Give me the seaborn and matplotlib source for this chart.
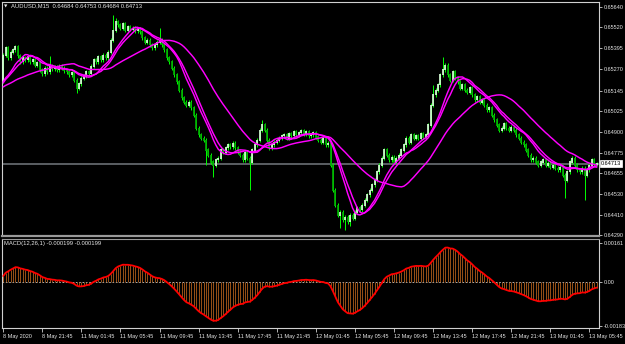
import numpy as np
import pandas as pd
import matplotlib
matplotlib.use("Agg")
import matplotlib.pyplot as plt
import seaborn as sns

# ---------------- data ----------------
symbol_text = "AUDUSD,M15  0.64684 0.64753 0.64684 0.64713"
macd_text = "MACD(12,26,1) -0.000199 -0.000199"

# closes before the visible window (estimated, needed for indicator warm-up)
warmup_close = [0.6514, 0.6516, 0.6513, 0.6515, 0.6517, 0.6515, 0.6512, 0.6514, 0.6516, 0.6515,
                0.6514, 0.6513, 0.6515, 0.6516, 0.6515, 0.6514, 0.6516, 0.6517, 0.6516, 0.6515,
                0.6514, 0.6515, 0.6517, 0.6516, 0.6515, 0.6516, 0.6517, 0.6519, 0.6518, 0.6517,
                0.6516, 0.6518, 0.6519, 0.6518, 0.6520]

close = [
    0.65355, 0.65397, 0.65338, 0.65373, 0.65385, 0.65403, 0.65350, 0.65314, 0.65338, 0.65326,
    0.65344, 0.65314, 0.65326, 0.65296, 0.65308, 0.65267, 0.65243, 0.65278, 0.65255, 0.65290,
    0.65273, 0.65284, 0.65267, 0.65290, 0.65278, 0.65261, 0.65255, 0.65237, 0.65249, 0.65207,
    0.65160, 0.65184, 0.65219, 0.65231, 0.65255, 0.65243, 0.65290, 0.65326, 0.65314, 0.65344,
    0.65326, 0.65355, 0.65338, 0.65373, 0.65444, 0.65503, 0.65551, 0.65533, 0.65515, 0.65539,
    0.65503, 0.65521, 0.65509, 0.65515, 0.65498, 0.65509, 0.65492, 0.65456, 0.65432, 0.65444,
    0.65415, 0.65397, 0.65415, 0.65432, 0.65444, 0.65415, 0.65385, 0.65338, 0.65314, 0.65278,
    0.65237, 0.65196, 0.65148, 0.65101, 0.65077, 0.65059, 0.65077, 0.65042, 0.65000, 0.64923,
    0.64882, 0.64864, 0.64852, 0.64793, 0.64763, 0.64722, 0.64704, 0.64734, 0.64745, 0.64793,
    0.64781, 0.64805, 0.64823, 0.64811, 0.64834, 0.64805, 0.64781, 0.64763, 0.64734, 0.64781,
    0.64745, 0.64722, 0.64793, 0.64823, 0.64852, 0.64911, 0.64941, 0.64911, 0.64852, 0.64805,
    0.64823, 0.64840, 0.64852, 0.64864, 0.64876, 0.64882, 0.64864, 0.64888, 0.64876, 0.64900,
    0.64882, 0.64894, 0.64906, 0.64888, 0.64900, 0.64876, 0.64882, 0.64894, 0.64870, 0.64852,
    0.64840, 0.64864, 0.64823, 0.64834, 0.64704, 0.64556, 0.64467, 0.64408, 0.64426, 0.64379,
    0.64396, 0.64367, 0.64408, 0.64390, 0.64426, 0.64450, 0.64438, 0.64467, 0.64497, 0.64527,
    0.64556, 0.64586, 0.64615, 0.64663, 0.64704, 0.64745, 0.64793, 0.64763, 0.64734, 0.64751,
    0.64722, 0.64745, 0.64763, 0.64793, 0.64823, 0.64864, 0.64840, 0.64882, 0.64864, 0.64876,
    0.64864, 0.64888, 0.64870, 0.64882, 0.64941, 0.65059, 0.65119, 0.65148, 0.65178, 0.65237,
    0.65267, 0.65296, 0.65237, 0.65207, 0.65255, 0.65219, 0.65196, 0.65160, 0.65178, 0.65148,
    0.65136, 0.65160, 0.65119, 0.65089, 0.65107, 0.65077, 0.65089, 0.65059, 0.65030, 0.65042,
    0.65000, 0.64971, 0.64941, 0.64911, 0.64923, 0.64947, 0.64923, 0.64911, 0.64929, 0.64911,
    0.64882, 0.64864, 0.64840, 0.64823, 0.64793, 0.64763, 0.64734, 0.64745, 0.64722, 0.64704,
    0.64722, 0.64734, 0.64704, 0.64716, 0.64692, 0.64704, 0.64686, 0.64675, 0.64692, 0.64645,
    0.64615, 0.64663, 0.64722, 0.64745, 0.64704, 0.64675, 0.64663, 0.64686, 0.64645, 0.64675,
    0.64704, 0.64734, 0.64710, 0.64713,
]

# notable wick extremes (bar index -> price)
high_spikes = {19: 0.65350, 45: 0.65592, 46: 0.65575, 64: 0.65515, 106: 0.64971,
               176: 0.65178, 180: 0.65344}
low_spikes = {30: 0.65130, 83: 0.64705, 86: 0.64633, 101: 0.64556, 138: 0.64331,
              140: 0.64319, 142: 0.64343, 230: 0.64509, 238: 0.64497}

price_ticks = [0.65640, 0.65520, 0.65395, 0.65270, 0.65145, 0.65025,
               0.64900, 0.64775, 0.64655, 0.64530, 0.64410, 0.64290]
macd_ticks = [0.00161, 0.0, -0.00183]
macd_tick_labels = ["0.00161", "0.00", "-0.00183"]
time_labels = ["8 May 2020", "8 May 21:45", "11 May 01:45", "11 May 05:45", "11 May 09:45",
               "11 May 13:45", "11 May 17:45", "11 May 21:45", "12 May 01:45", "12 May 05:45",
               "12 May 09:45", "12 May 13:45", "12 May 17:45", "12 May 21:45", "13 May 01:45",
               "13 May 05:45"]
label_step = 16
ma_periods = [10, 12, 30]
last_price = 0.64713

# ---------------- derived series ----------------
full = pd.Series(warmup_close + close)
n_w = len(warmup_close)
n = len(close)
idx = np.arange(n)
c = np.array(close)
o = np.array(([warmup_close[-1]] + close)[:-1])
WICK = 0.00011
hi = np.maximum(o, c) + WICK
lo = np.minimum(o, c) - WICK
for k, v in high_spikes.items():
    hi[k] = max(hi[k], v)
for k, v in low_spikes.items():
    lo[k] = min(lo[k], v)

ma = pd.DataFrame({"bar": idx})
for p in ma_periods:
    ma[f"MA{p}"] = full.rolling(p).mean().values[n_w:]
macd = (full.ewm(span=12, adjust=False).mean() - full.ewm(span=26, adjust=False).mean()).values[n_w:]

# ---------------- drawing ----------------
sns.set_style("dark", {"axes.facecolor": "black", "figure.facecolor": "black"})
plt.rcParams["font.family"] = ["Liberation Sans", "DejaVu Sans"]
TXT = "#E6E6E6"
FS = 4.0

fig = plt.figure(figsize=(6.25, 3.44), dpi=100, facecolor="black")
W, H = 625, 344
ax = fig.add_axes([2 / W, 1 - 236 / H, 597 / W, 234 / H])
axm = fig.add_axes([2 / W, 1 - 328 / H, 597 / W, 89 / H])

for a in (ax, axm):
    a.set_facecolor("black")
    a.grid(False)
    a.set_xlim(-0.5, 243.9)
    for s in a.spines.values():
        s.set_color("#D0D0D0")
        s.set_linewidth(0.8)

# current-price line
ax.axhline(last_price, color="#6A6F74", lw=1.2, zorder=1)

# candles
up = c >= o
ax.vlines(idx, lo, hi, colors="#00FF00", lw=0.7, zorder=2)
ax.vlines(idx, np.minimum(o, c) - 0.00003, np.maximum(o, c) + 0.00003,
          colors=np.where(up, "#D8FFD8", "#00B000"), lw=1.25, zorder=3)

# moving averages
for p in ma_periods:
    sns.lineplot(data=ma, x="bar", y=f"MA{p}", ax=ax, color="#FF00FF", lw=1.05, zorder=4)

ax.set_ylim(0.64284, 0.65669)
ax.set_xticks([])
ax.set_xlabel("")
ax.set_ylabel("")
ax.yaxis.tick_right()
ax.set_yticks(price_ticks)
ax.set_yticklabels([f"{v:.5f}" for v in price_ticks])
ax.tick_params(axis="y", right=True, direction="out", length=2.5, width=0.6,
               color="#D0D0D0", labelsize=FS, labelcolor=TXT, pad=1.0)
ax.spines["bottom"].set_color("#9A9A9A")
ax.spines["bottom"].set_linewidth(1.6)

# price box
ax.text(1.003, (last_price - 0.64284) / (0.65669 - 0.64284), f"{last_price:.5f}",
        transform=ax.transAxes, ha="left", va="center", fontsize=FS, color="black",
        bbox=dict(boxstyle="square,pad=0.12", fc="white", ec="white", lw=0.5))

# MACD panel
axm.vlines(idx, 0, macd, colors="#C0661E", lw=0.55, zorder=2)
axm.axhline(0, color="#C8C8C8", lw=0.6, ls=(0, (2, 2)), zorder=1)
sns.lineplot(x=idx, y=macd, ax=axm, color="#FF0000", lw=1.3, zorder=3)
axm.set_ylim(-0.00191, 0.00177)
axm.set_xlabel("")
axm.set_ylabel("")
axm.yaxis.tick_right()
axm.set_yticks(macd_ticks)
axm.set_yticklabels(macd_tick_labels)
axm.tick_params(axis="y", right=True, direction="out", length=2.5, width=0.6,
                color="#D0D0D0", labelsize=FS, labelcolor=TXT, pad=1.0)
tick_pos = np.arange(len(time_labels)) * label_step
axm.set_xticks(tick_pos)
axm.set_xticklabels(time_labels, ha="left")
axm.tick_params(axis="x", bottom=True, direction="out", length=3, width=0.6,
                color="#D0D0D0", labelsize=FS, labelcolor=TXT, pad=1.5)
axm.spines["top"].set_color("#9A9A9A")

# header texts
fig.text(4 / W, 1 - 6 / H, "\u25BC", fontsize=3.2, color=TXT, va="center", ha="left",
         family=["DejaVu Sans"])
fig.text(11 / W, 1 - 6 / H, symbol_text, fontsize=FS + 0.2, color=TXT, va="center", ha="left")
fig.text(4 / W, 1 - 244 / H, macd_text, fontsize=FS + 0.2, color=TXT, va="center", ha="left")

fig.savefig("out.png", dpi=100, facecolor="black")
